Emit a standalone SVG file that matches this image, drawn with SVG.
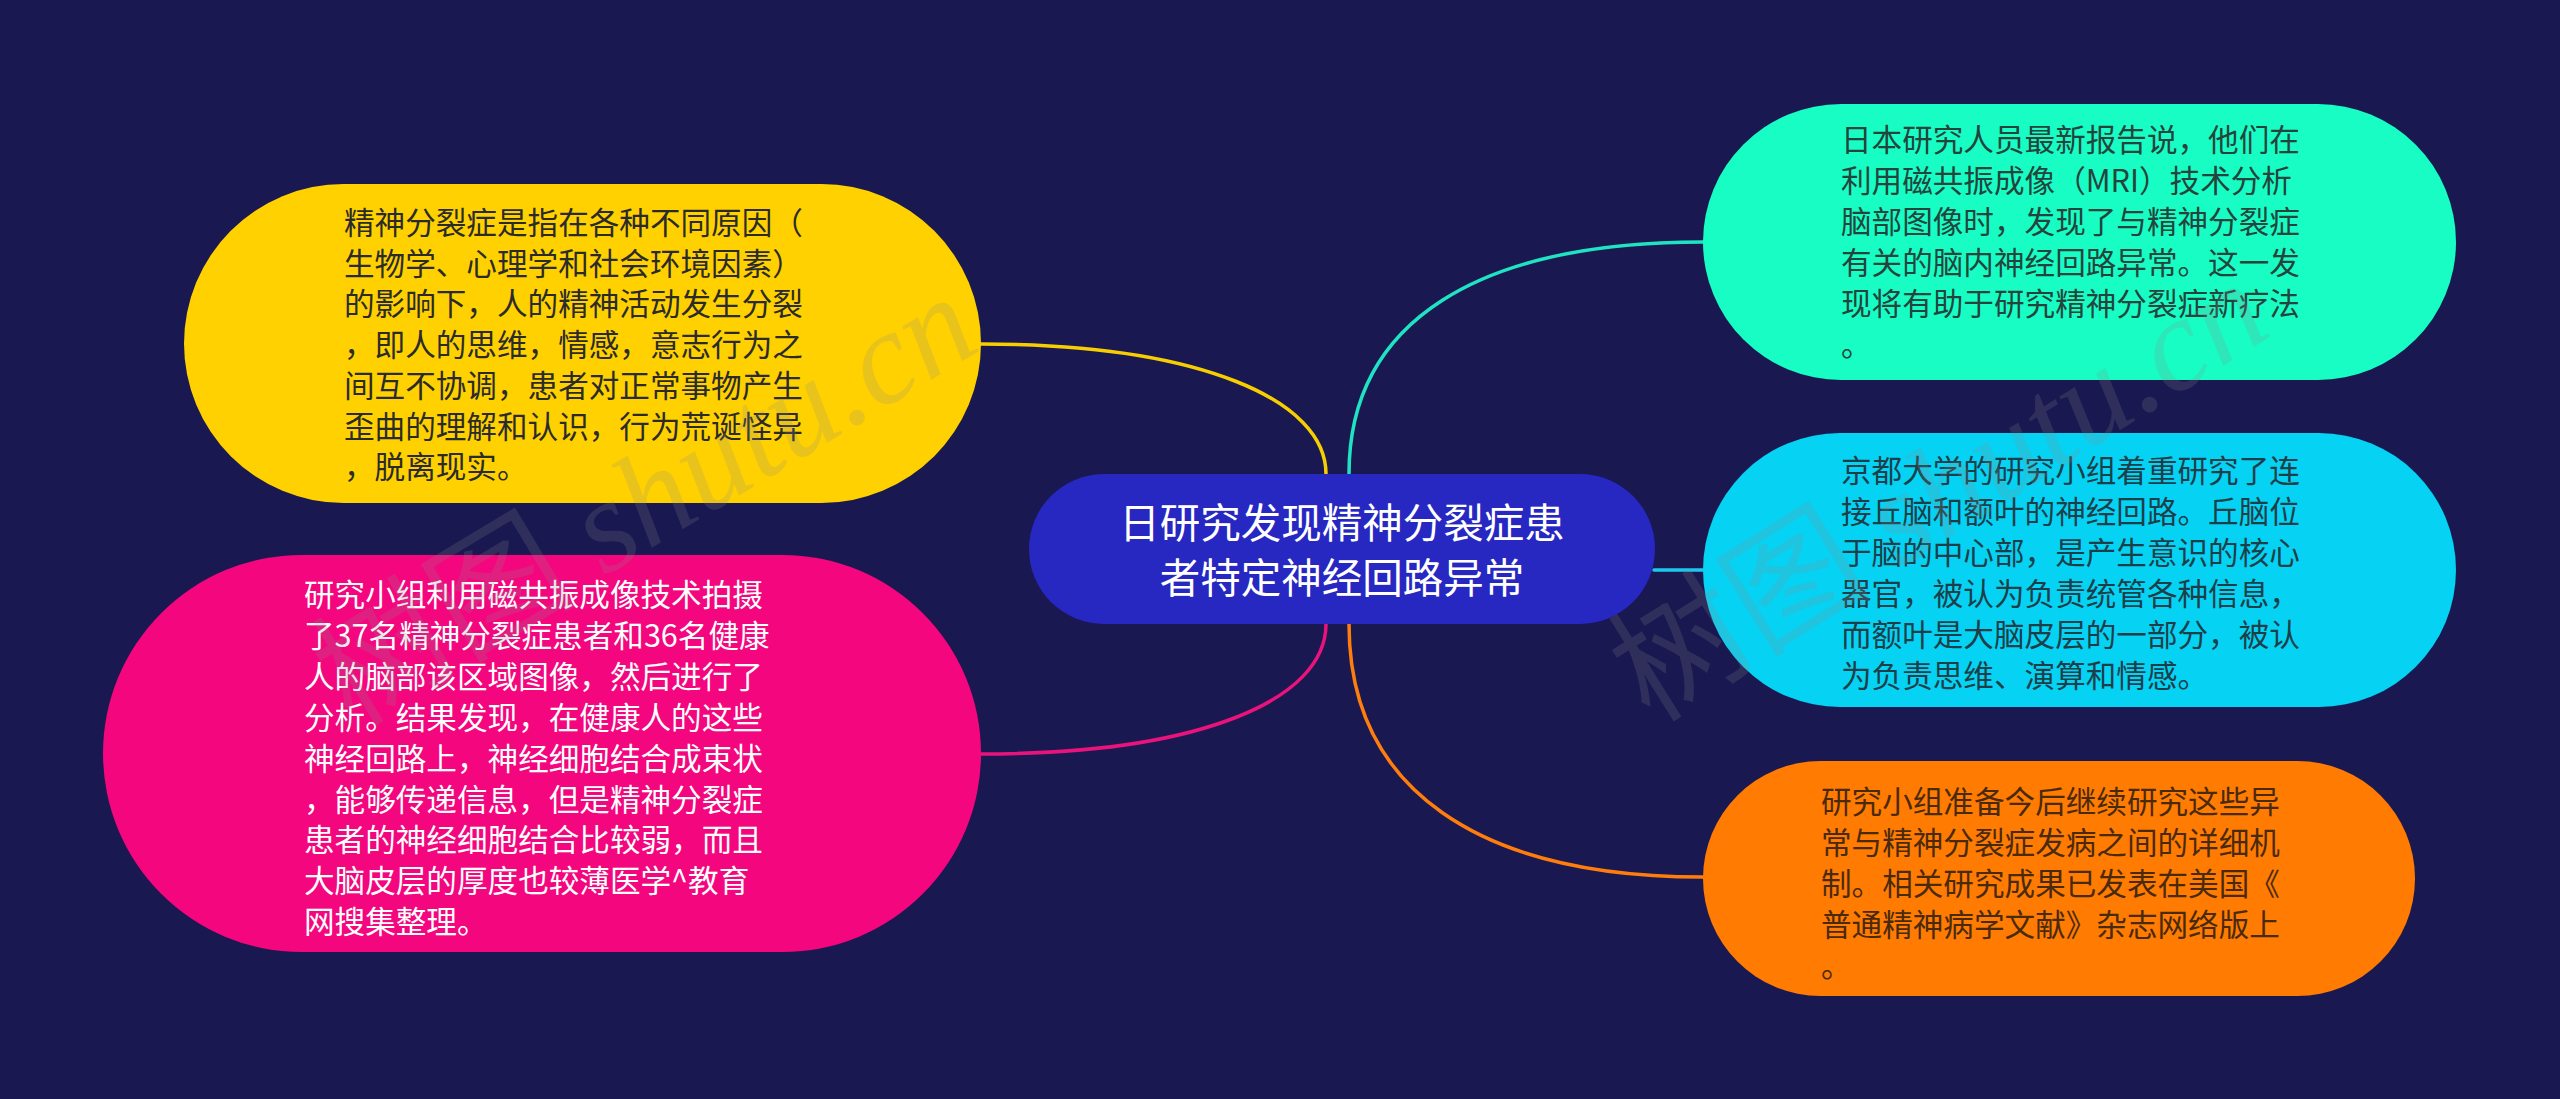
<svg xmlns="http://www.w3.org/2000/svg" width="2560" height="1099" viewBox="0 0 2560 1099">
<style>
.t{font-family:"Noto Sans CJK SC","Noto Sans",sans-serif;font-size:30.6px}
.c{font-family:"Noto Sans CJK SC","Noto Sans",sans-serif;font-size:40.5px;fill:#ffffff;text-anchor:middle}
.ln{fill:none;stroke-width:3.5;stroke-linecap:round}
.wm{fill:#8a8a8a;fill-opacity:0.2;font-size:132px}
</style>
<rect width="2560" height="1099" fill="#191851"/>
<g id="connectors">
<path class="ln" stroke="#f7cf00" d="M981,344 C1200,344 1326,400 1326,474"/>
<path class="ln" stroke="#e8137b" d="M981,754 C1200,754 1326,700 1326,624"/>
<path class="ln" stroke="#1fe3c2" d="M1349,474 C1349,320 1480,242 1703,242"/>
<path class="ln" stroke="#1ec6ee" d="M1654,570 L1703,570"/>
<path class="ln" stroke="#ff7d0c" d="M1349,624 C1349,790 1480,877 1703,877"/>
</g>
<g id="center">
<rect x="1029" y="474" width="626" height="150" rx="75" fill="#2727c2"/>
<text class="c"><tspan x="1342" y="538">日研究发现精神分裂症患</tspan><tspan x="1342" y="593">者特定神经回路异常</tspan></text>
</g>
<g id="node-yellow">
<rect x="184" y="184" width="797" height="319" rx="159.5" fill="#ffd100"/>
<text class="t" fill="#2b2b2b"><tspan x="344" y="234">精神分裂症是指在各种不同原因（</tspan><tspan x="344" dy="40.7">生物学、心理学和社会环境因素）</tspan><tspan x="344" dy="40.7">的影响下，人的精神活动发生分裂</tspan><tspan x="344" dy="40.7">，即人的思维，情感，意志行为之</tspan><tspan x="344" dy="40.7">间互不协调，患者对正常事物产生</tspan><tspan x="344" dy="40.7">歪曲的理解和认识，行为荒诞怪异</tspan><tspan x="344" dy="40.7">，脱离现实。</tspan></text>
</g>
<g id="node-pink">
<rect x="103" y="555" width="878" height="397" rx="198.5" fill="#f3067e"/>
<text class="t" fill="#ffffff"><tspan x="304" y="606">研究小组利用磁共振成像技术拍摄</tspan><tspan x="304" dy="40.9">了37名精神分裂症患者和36名健康</tspan><tspan x="304" dy="40.9">人的脑部该区域图像，然后进行了</tspan><tspan x="304" dy="40.9">分析。结果发现，在健康人的这些</tspan><tspan x="304" dy="40.9">神经回路上，神经细胞结合成束状</tspan><tspan x="304" dy="40.9">，能够传递信息，但是精神分裂症</tspan><tspan x="304" dy="40.9">患者的神经细胞结合比较弱，而且</tspan><tspan x="304" dy="40.9">大脑皮层的厚度也较薄医学^教育</tspan><tspan x="304" dy="40.9">网搜集整理。</tspan></text>
</g>
<g id="node-cyan">
<rect x="1703" y="104" width="753" height="276" rx="138" fill="#17fdc4"/>
<text class="t" fill="#24443c"><tspan x="1841" y="151">日本研究人员最新报告说，他们在</tspan><tspan x="1841" dy="41">利用磁共振成像（MRI）技术分析</tspan><tspan x="1841" dy="41">脑部图像时，发现了与精神分裂症</tspan><tspan x="1841" dy="41">有关的脑内神经回路异常。这一发</tspan><tspan x="1841" dy="41">现将有助于研究精神分裂症新疗法</tspan><tspan x="1841" dy="41">。</tspan></text>
</g>
<g id="node-sky">
<rect x="1703" y="433" width="753" height="274" rx="137" fill="#06d2f3"/>
<text class="t" fill="#1d3f4a"><tspan x="1841" y="482">京都大学的研究小组着重研究了连</tspan><tspan x="1841" dy="41">接丘脑和额叶的神经回路。丘脑位</tspan><tspan x="1841" dy="41">于脑的中心部，是产生意识的核心</tspan><tspan x="1841" dy="41">器官，被认为负责统管各种信息，</tspan><tspan x="1841" dy="41">而额叶是大脑皮层的一部分，被认</tspan><tspan x="1841" dy="41">为负责思维、演算和情感。</tspan></text>
</g>
<g id="node-orange">
<rect x="1703" y="761" width="712" height="235" rx="117.5" fill="#ff7b02"/>
<text class="t" fill="#4a2a0c"><tspan x="1821" y="813">研究小组准备今后继续研究这些异</tspan><tspan x="1821" dy="41">常与精神分裂症发病之间的详细机</tspan><tspan x="1821" dy="41">制。相关研究成果已发表在美国《</tspan><tspan x="1821" dy="41">普通精神病学文献》杂志网络版上</tspan><tspan x="1821" dy="41">。</tspan></text>
</g>
<g id="watermarks">
<text class="wm" transform="translate(352,728) rotate(-31)"><tspan font-family="Noto Sans CJK SC,sans-serif">树图 </tspan><tspan font-family="Liberation Serif,serif" font-style="italic">shutu.cn</tspan></text>
<text class="wm" transform="translate(1650,724) rotate(-32)"><tspan font-family="Noto Sans CJK SC,sans-serif">树图 </tspan><tspan font-family="Liberation Serif,serif" font-style="italic">shutu.cn</tspan></text>
</g>
</svg>
